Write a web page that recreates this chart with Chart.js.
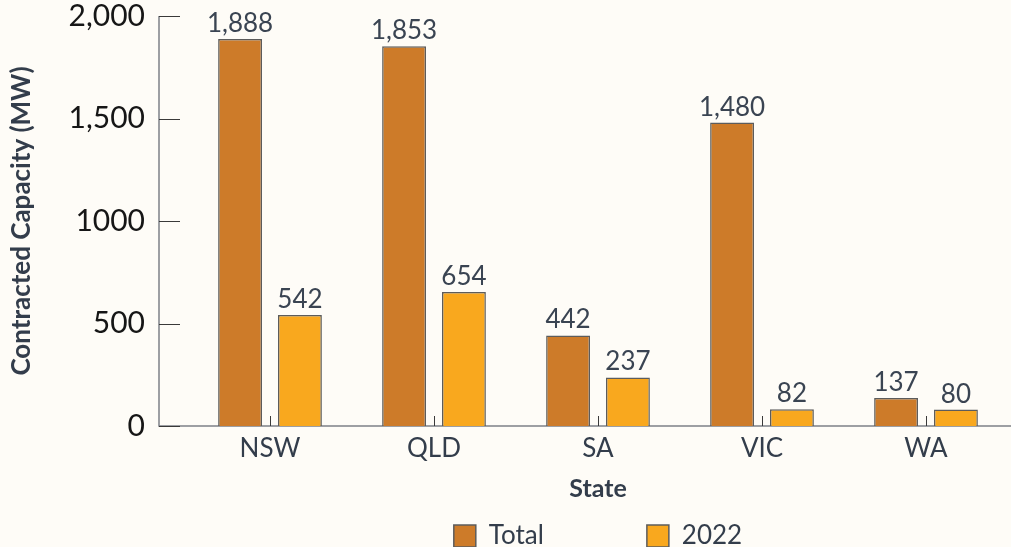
<!DOCTYPE html>
<html>
<head>
<meta charset="utf-8">
<script src="https://cdn.jsdelivr.net/npm/chart.js@4.4.0/dist/chart.umd.min.js"></script>
<style>
  html, body { margin: 0; padding: 0; background: #fefcf7; }
  #wrap { width: 1011px; height: 547px; }
</style>
</head>
<body>
<div id="wrap"><canvas id="capacityChart"></canvas></div>
<script>
const states = ['NSW', 'QLD', 'SA', 'VIC', 'WA'];
const totalMW = [1888, 1853, 442, 1480, 137];
const mw2022 = [542, 654, 237, 82, 80];
const yTicks = [0, 500, 1000, 1500, 2000];
const yTickLabels = ['0', '500', '1000', '1,500', '2,000'];

const FONT = 'Lato, "Open Sans", sans-serif';
const TEXT = '#333d4b';
const AXIS_GAP = 29;      // y axis sits left of the plot area
const LEGEND_GAP = 103;   // horizontal space between legend items
const LEGEND_HEIGHT = 43;

// axis lines + inward tick marks, y axis pushed out to the left
const offsetAxes = {
    id: 'offsetAxes',
    beforeDatasetsDraw(chart) {
        const { ctx, chartArea, scales: { x, y } } = chart;
        const ax = chartArea.left - AXIS_GAP;
        ctx.save();
        ctx.strokeStyle = '#7d8088';
        ctx.lineWidth = 1.5;
        ctx.beginPath();
        ctx.moveTo(ax, chartArea.top);
        ctx.lineTo(ax, chartArea.bottom);
        ctx.lineTo(chart.width, chartArea.bottom);
        ctx.stroke();

        ctx.strokeStyle = '#3a3a3a';
        ctx.lineWidth = 1;
        ctx.beginPath();
        y.ticks.forEach((t) => {
            const py = Math.round(y.getPixelForValue(t.value)) + 0.5;
            ctx.moveTo(ax, py);
            ctx.lineTo(ax + 21, py);
        });
        x.ticks.forEach((t, i) => {
            const px = Math.round(x.getPixelForTick(i)) + 0.5;
            ctx.moveTo(px, chartArea.bottom);
            ctx.lineTo(px, chartArea.bottom - 10);
        });
        ctx.stroke();
        ctx.restore();
    }
};

// value labels above bars
const barValues = {
    id: 'barValues',
    afterDatasetsDraw(chart) {
        const { ctx } = chart;
        ctx.save();
        ctx.font = '26px ' + FONT;
        ctx.fillStyle = '#3a4452';
        ctx.textAlign = 'center';
        ctx.textBaseline = 'alphabetic';
        chart.data.datasets.forEach((ds, di) => {
            chart.getDatasetMeta(di).data.forEach((bar, i) => {
                ctx.fillText(ds.data[i].toLocaleString('en-US'), bar.x, bar.y - 7);
            });
        });
        ctx.restore();
    }
};

// legend padding is used both ways; keep the wide horizontal gap but a short box
const legendSpacing = {
    id: 'legendSpacing',
    afterInit(chart) {
        const lg = chart.legend;
        const fit = lg.fit;
        lg.fit = function () {
            fit.call(this);
            this.height = LEGEND_HEIGHT;
        };
        const drawItems = lg._draw;
        lg._draw = function () {
            const shift = LEGEND_GAP - 19;
            this.top -= shift;
            drawItems.call(this);
            this.top += shift;
        };
    }
};

const ctx = document.getElementById('capacityChart').getContext('2d');
const capacityChart = new Chart(ctx, {
    type: 'bar',
    data: {
        labels: states,
        datasets: [{
            label: 'Total',
            data: totalMW,
            backgroundColor: '#cd7b29',
            borderColor: '#5c5c5c',
            borderWidth: 1.5,
            categoryPercentage: 0.73,
            barPercentage: 0.733
        }, {
            label: '2022',
            data: mw2022,
            backgroundColor: '#f9a81e',
            borderColor: '#5c5c5c',
            borderWidth: 1.5,
            categoryPercentage: 0.73,
            barPercentage: 0.733
        }]
    },
    options: {
        responsive: true,
        maintainAspectRatio: false,
        animation: false,
        layout: { padding: { top: 2, right: 3, left: 0, bottom: 0 } },
        scales: {
            x: {
                afterFit: (scale) => { scale.height = 78; },
                grid: { display: false, drawTicks: false },
                border: { display: false },
                ticks: { color: TEXT, font: { family: FONT, size: 26 }, padding: 7 },
                title: {
                    display: true,
                    text: 'State',
                    color: TEXT,
                    font: { family: FONT, size: 25, weight: 'bold' },
                    padding: { top: 8, bottom: 0 }
                }
            },
            y: {
                min: 0,
                max: 2000,
                afterFit: (scale) => {
                    scale.width = 188;
                    scale.paddingTop = 16;
                    scale.paddingBottom = 0;
                },
                grid: { display: false, drawTicks: false },
                border: { display: false },
                ticks: {
                    stepSize: 500,
                    color: '#161616',
                    font: { family: FONT, size: 30 },
                    padding: 43,
                    callback: (v) => yTickLabels[yTicks.indexOf(v)]
                },
                title: {
                    display: true,
                    text: 'Contracted Capacity (MW)',
                    color: TEXT,
                    font: { family: FONT, size: 26, weight: 'bold' },
                    padding: { top: 6, bottom: 0 }
                }
            }
        },
        plugins: {
            legend: {
                position: 'bottom',
                fullSize: false,
                labels: {
                    color: TEXT,
                    font: { family: FONT, size: 26 },
                    boxWidth: 22,
                    boxHeight: 22,
                    padding: LEGEND_GAP
                }
            },
            tooltip: { enabled: false }
        }
    },
    plugins: [offsetAxes, barValues, legendSpacing]
});
</script>
</body>
</html>
